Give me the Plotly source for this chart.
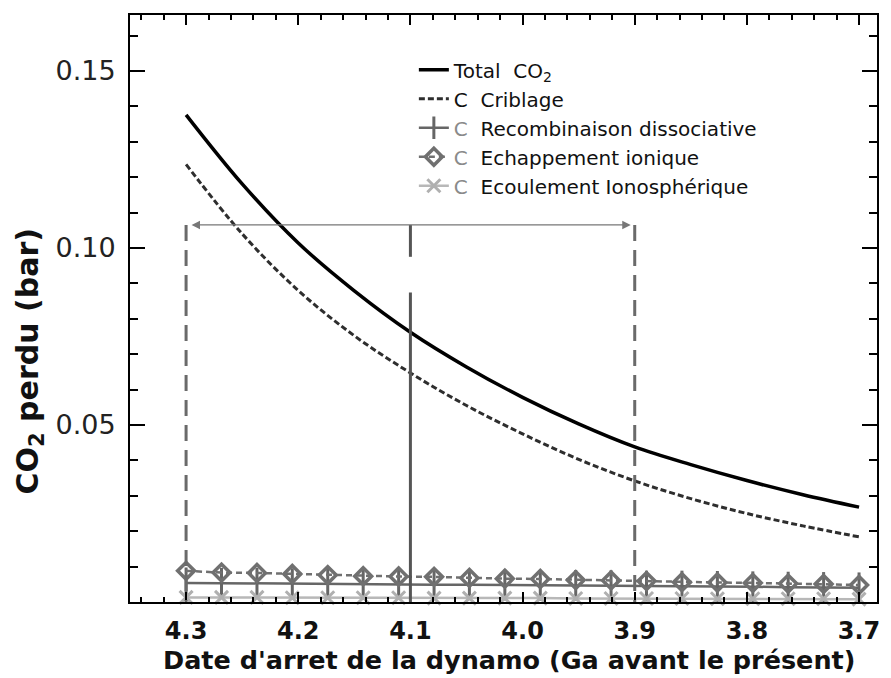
import plotly.graph_objects as go

# Dynamo shutdown date (Ga before present) and cumulative CO2 loss (bar)
age_main = [4.30, 4.25, 4.20, 4.15, 4.10, 4.05, 4.00, 3.95, 3.90, 3.85, 3.80, 3.75, 3.70]
total_co2 = [0.1376, 0.1181, 0.1014, 0.0879, 0.0762, 0.0664, 0.0578, 0.0503, 0.0438,
             0.0388, 0.0343, 0.0303, 0.0268]
criblage = [0.1236, 0.1040, 0.0880, 0.0752, 0.0647, 0.0555, 0.0475, 0.0403, 0.0342,
            0.0292, 0.0250, 0.0215, 0.0184]

age_minor = [4.3000, 4.2684, 4.2368, 4.2053, 4.1737, 4.1421, 4.1105, 4.0789, 4.0474, 4.0158,
             3.9842, 3.9526, 3.9211, 3.8895, 3.8579, 3.8263, 3.7947, 3.7632, 3.7316, 3.7000]
recombinaison = [0.0054, 0.0053, 0.0053, 0.0052, 0.0051, 0.0051, 0.0050, 0.0049, 0.0049, 0.0048,
                 0.0047, 0.0047, 0.0046, 0.0045, 0.0045, 0.0044, 0.0043, 0.0042, 0.0041, 0.0040]
echappement = [0.0088, 0.0083, 0.0082, 0.0079, 0.0076, 0.0073, 0.0072, 0.0071, 0.0068, 0.0066,
               0.0065, 0.0062, 0.0061, 0.0059, 0.0056, 0.0055, 0.0054, 0.0052, 0.0051, 0.0048]
ecoulement = [0.0013, 0.0013, 0.0013, 0.0012, 0.0012, 0.0012, 0.0012, 0.0011, 0.0011, 0.0011,
              0.0011, 0.0010, 0.0010, 0.0010, 0.0010, 0.0009, 0.0009, 0.0009, 0.0009, 0.0008]

# Dynamo shutdown window and preferred date
window_dates = [4.3, 3.9]
best_date = 4.1
window_level = 0.1065
best_gap = [0.0975, 0.0874]

x_ticks = [4.3, 4.2, 4.1, 4.0, 3.9, 3.8, 3.7]
y_ticks = [0.05, 0.10, 0.15]
y_ticktext = ["0.05", "0.10", "0.15"]

FONT = "DejaVu Sans"
GREY_C = "<span style='color:#8a8a8a'>C</span>"

fig = go.Figure()

fig.add_trace(go.Scatter(
    x=age_main, y=total_co2, mode="lines", line_shape="spline",
    line=dict(color="black", width=3.5),
    name="Total  CO<sub>2</sub>"))
fig.add_trace(go.Scatter(
    x=age_main, y=criblage, mode="lines", line_shape="spline",
    line=dict(color="#2e2e2e", width=3, dash="6px,3px"),
    name="C  Criblage"))
fig.add_trace(go.Scatter(
    x=age_minor, y=recombinaison, mode="lines+markers", cliponaxis=False,
    line=dict(color="#666666", width=2.5),
    marker=dict(symbol="line-ns", size=22, line=dict(color="#666666", width=3)),
    name=GREY_C + "  Recombinaison dissociative"))
fig.add_trace(go.Scatter(
    x=age_minor, y=echappement, mode="lines+markers", cliponaxis=False,
    line=dict(color="#707070", width=2.5, dash="6px,4px"),
    marker=dict(symbol="diamond-open", size=13, line=dict(color="#6a6a6a", width=3.5)),
    name=GREY_C + "  Echappement ionique"))
fig.add_trace(go.Scatter(
    x=age_minor, y=ecoulement, mode="lines+markers", cliponaxis=False,
    line=dict(color="#b8b8b8", width=2.5),
    marker=dict(symbol="x-thin", size=13, line=dict(color="#b0b0b0", width=3)),
    name=GREY_C + "  Ecoulement Ionosphérique"))

# Dashed bounds of the shutdown window
for d in window_dates:
    fig.add_shape(type="line", xref="x", yref="y", x0=d, x1=d, y0=window_level, y1=0,
                  line=dict(color="#6a6a6a", width=3, dash="16px,9px"))

# Preferred date, interrupted line
fig.add_shape(type="line", xref="x", yref="y", x0=best_date, x1=best_date,
              y0=window_level, y1=best_gap[0], line=dict(color="#555555", width=3))
fig.add_shape(type="line", xref="x", yref="y", x0=best_date, x1=best_date,
              y0=best_gap[1], y1=0, line=dict(color="#555555", width=3))

# Double-headed arrow spanning the window
fig.add_annotation(x=window_dates[1], y=window_level, ax=window_dates[0], ay=window_level,
                   xref="x", yref="y", axref="x", ayref="y", text="",
                   showarrow=True, arrowhead=2, startarrowhead=2, arrowside="end+start",
                   arrowwidth=1.3, arrowsize=1.3, startarrowsize=1.3, arrowcolor="#777777",
                   standoff=4, startstandoff=4)

# Axis titles
fig.add_annotation(text="Date d'arret de la dynamo (Ga avant le présent)",
                   xref="paper", yref="paper", x=0.507, y=-0.0988,
                   xanchor="center", yanchor="middle", showarrow=False,
                   font=dict(family=FONT, size=25.5, color="#111111", weight="bold"))
fig.add_annotation(text="CO<sub>2</sub> perdu (bar)", textangle=-90,
                   xref="paper", yref="paper", x=-0.135, y=0.41,
                   xanchor="center", yanchor="middle", showarrow=False,
                   font=dict(family=FONT, size=30, color="#111111", weight="bold"))

fig.update_xaxes(
    range=[4.35, 3.684], tickmode="array", tickvals=x_ticks, tickformat=".1f",
    ticks="inside", ticklen=10, tickwidth=2, tickcolor="black",
    minor=dict(dtick=0.02, tick0=3.7, ticks="inside", ticklen=5, tickwidth=1.5, tickcolor="black"),
    showline=True, linewidth=2, linecolor="black", mirror="ticks",
    showgrid=False, zeroline=False, ticklabelstandoff=6,
    tickfont=dict(family=FONT, size=24, color="#111111", weight="bold"))
fig.update_yaxes(
    range=[0, 0.1658], tickmode="array", tickvals=y_ticks, ticktext=y_ticktext,
    ticks="inside", ticklen=15, tickwidth=2, tickcolor="black",
    minor=dict(dtick=0.01, tick0=0, ticks="inside", ticklen=8, tickwidth=2, tickcolor="black"),
    showline=True, linewidth=2, linecolor="black", mirror="ticks",
    showgrid=False, zeroline=False, ticklabelstandoff=7,
    tickfont=dict(family=FONT, size=27, color="#222222"))

fig.update_layout(
    width=891, height=678,
    margin=dict(l=130, r=11, t=15, b=76),
    plot_bgcolor="white", paper_bgcolor="white",
    showlegend=True,
    legend=dict(x=0.38, y=0.94, xanchor="left", yanchor="top",
                bgcolor="rgba(0,0,0,0)", borderwidth=0,
                font=dict(family=FONT, size=20, color="#111111")),
)

fig.write_html("out.html")
